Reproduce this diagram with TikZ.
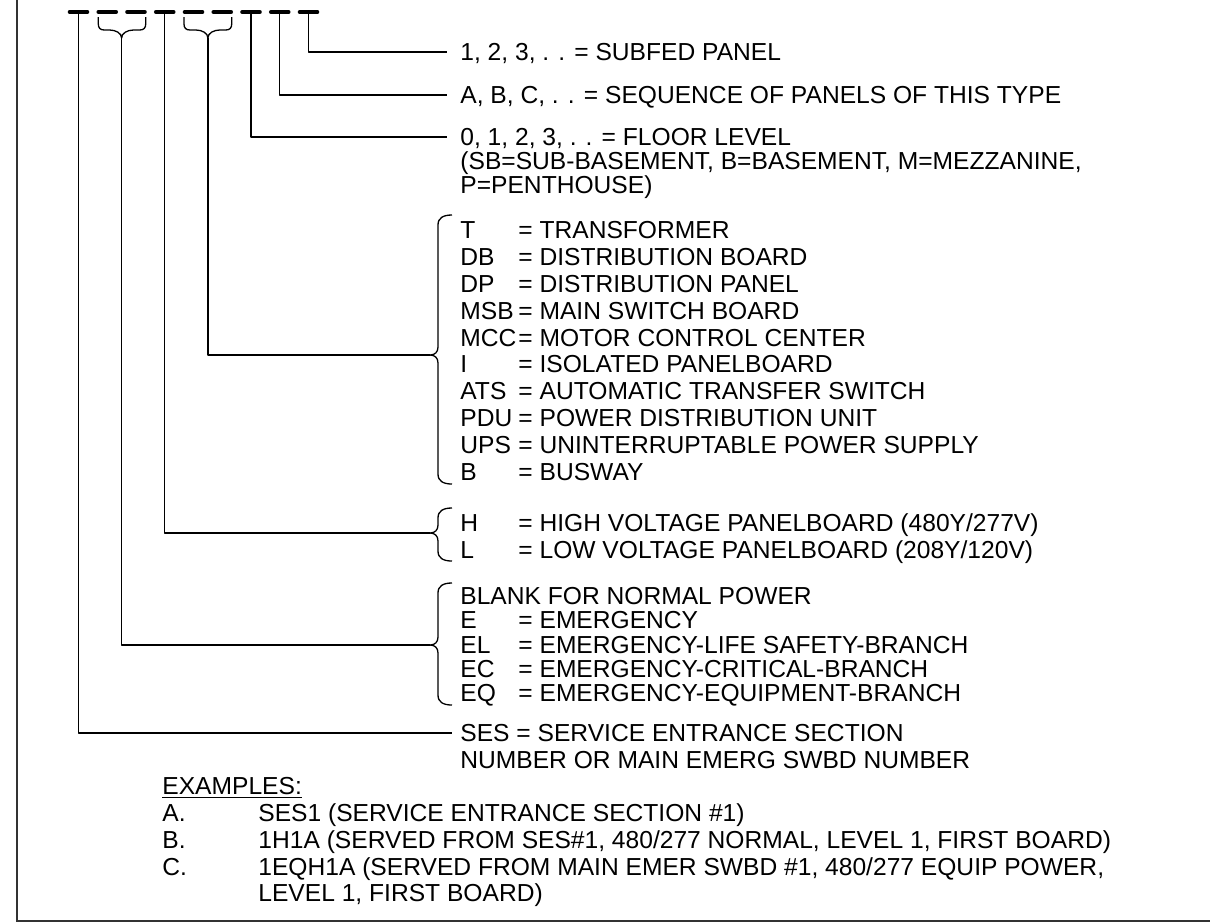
\documentclass[tikz,border=0pt]{standalone}
\usepackage{fontspec}
\setmainfont{Liberation Sans}
\usepackage{tikz}

\tikzset{
  conn/.style={line width=0.65pt, line join=round},
  dashmark/.style={line width=2pt, line cap=round},
  lbl/.style={anchor=west, inner sep=0pt, text height=8.8pt, text depth=0pt},
}
\newcommand{\abbr}[1]{\makebox[29pt][l]{#1}}
% side brace: top, tip, bottom, name of tip
\newcommand{\sidebrace}[4]{
  \draw[conn] (452,#1) .. controls (443,#1) and (438,#1+3) .. (438,#1+10)
    -- (438,#2-8) .. controls (438,#2-3) and (435,#2) .. (430,#2)
    .. controls (435,#2) and (438,#2+3) .. (438,#2+8)
    -- (438,#3-10) .. controls (438,#3-3) and (443,#3) .. (452,#3);
  \coordinate (#4) at (430,#2);}
% brace under two dashes: left, middle, right, name of tip
\newcommand{\topbrace}[4]{
  \draw[conn] (#1,17) -- (#1,24) .. controls (#1,28) and (#1+2,30) .. (#1+6,30)
    -- (#2-12,30) .. controls (#2-6,30) and (#2,33) .. (#2,38)
    .. controls (#2,33) and (#2+6,30) .. (#2+12,30)
    -- (#3-6,30) .. controls (#3-2,30) and (#3,28) .. (#3,24) -- (#3,17);
  \coordinate (#4) at (#2,38);}

\begin{document}
\begin{tikzpicture}[x=0.5pt,y=-0.5pt,font=\fontsize{12.3}{14}\selectfont]
\useasboundingbox (0,0) rectangle (1210,923);
\draw[line width=1pt,black!80] (17,0) -- (17,921) -- (1210,921);

\foreach \k in {1,...,9}{
  \coordinate (d\k) at (78.5+28.75*\k-28.75,12);
  \draw[dashmark] ([xshift=-4.4pt]d\k) -- ([xshift=4.4pt]d\k);
}
\topbrace{98.3}{121.6}{145.7}{b1}
\topbrace{184}{207.9}{231.7}{b2}

\node[lbl] (sub) at (460,52) {1, 2, 3, . . = SUBFED PANEL};
\node[lbl] (seq) at (460,95) {A, B, C, . . = SEQUENCE OF PANELS OF THIS TYPE};
\node[lbl] (flr) at (460,137) {0, 1, 2, 3, . . = FLOOR LEVEL};
\node[lbl] (flr2) at (460,161) {(SB=SUB-BASEMENT, B=BASEMENT, M=MEZZANINE,};
\node[lbl] (flr3) at (460,185) {P=PENTHOUSE)};

\node[lbl] (t1) at (460,230) {\abbr{T}= TRANSFORMER};
\node[lbl] (t2) at (460,257) {\abbr{DB}= DISTRIBUTION BOARD};
\node[lbl] (t3) at (460,284) {\abbr{DP}= DISTRIBUTION PANEL};
\node[lbl] (t4) at (460,311) {\abbr{MSB}= MAIN SWITCH BOARD};
\node[lbl] (t5) at (460,338) {\abbr{MCC}= MOTOR CONTROL CENTER};
\node[lbl] (t6) at (460,364) {\abbr{I}= ISOLATED PANELBOARD};
\node[lbl] (t7) at (460,391) {\abbr{ATS}= AUTOMATIC TRANSFER SWITCH};
\node[lbl] (t8) at (460,418) {\abbr{PDU}= POWER DISTRIBUTION UNIT};
\node[lbl] (t9) at (460,445) {\abbr{UPS}= UNINTERRUPTABLE POWER SUPPLY};
\node[lbl] (t10) at (460,472) {\abbr{B}= BUSWAY};
\sidebrace{215}{355}{484}{tipT}

\node[lbl] (vh) at (460,523) {\abbr{H}= HIGH VOLTAGE PANELBOARD (480Y/277V)};
\node[lbl] (vl) at (460,550) {\abbr{L}= LOW VOLTAGE PANELBOARD (208Y/120V)};
\sidebrace{508}{533}{561}{tipV}

\node[lbl] (e0) at (460,596) {BLANK FOR NORMAL POWER};
\node[lbl] (e1) at (460,620) {\abbr{E}= EMERGENCY};
\node[lbl] (e2) at (460,645) {\abbr{EL}= EMERGENCY-LIFE SAFETY-BRANCH};
\node[lbl] (e3) at (460,669) {\abbr{EC}= EMERGENCY-CRITICAL-BRANCH};
\node[lbl] (e4) at (460,693) {\abbr{EQ}= EMERGENCY-EQUIPMENT-BRANCH};
\sidebrace{583}{645}{705}{tipE}

\node[lbl] (ses) at (460,733) {SES = SERVICE ENTRANCE SECTION};
\node[lbl] (ses2) at (460,760) {NUMBER OR MAIN EMERG SWBD NUMBER};

\node[lbl] (exh) at (162,786) {\underline{EXAMPLES:}};
\node[lbl] (exa) at (162,813) {\makebox[48pt][l]{A.}SES1 (SERVICE ENTRANCE SECTION \#1)};
\node[lbl] (exb) at (162,840) {\makebox[48pt][l]{B.}1H1A (SERVED FROM SES\#1, 480/277 NORMAL, LEVEL 1, FIRST BOARD)};
\node[lbl] (exc) at (162,867) {\makebox[48pt][l]{C.}1EQH1A (SERVED FROM MAIN EMER SWBD \#1, 480/277 EQUIP POWER,};
\node[lbl] (exc2) at (258,893) {LEVEL 1, FIRST BOARD)};

\draw[conn] (d9) |- ([xshift=-6.5pt]sub.west);
\draw[conn] (d8) |- ([xshift=-6.5pt]seq.west);
\draw[conn] (d7) |- ([xshift=-6.5pt]flr.west);
\draw[conn] (b2) |- (tipT);
\draw[conn] (d4) |- (tipV);
\draw[conn] (b1) |- (tipE);
\draw[conn] (d1) |- ([xshift=-4pt]ses.west);
\end{tikzpicture}
\end{document}
